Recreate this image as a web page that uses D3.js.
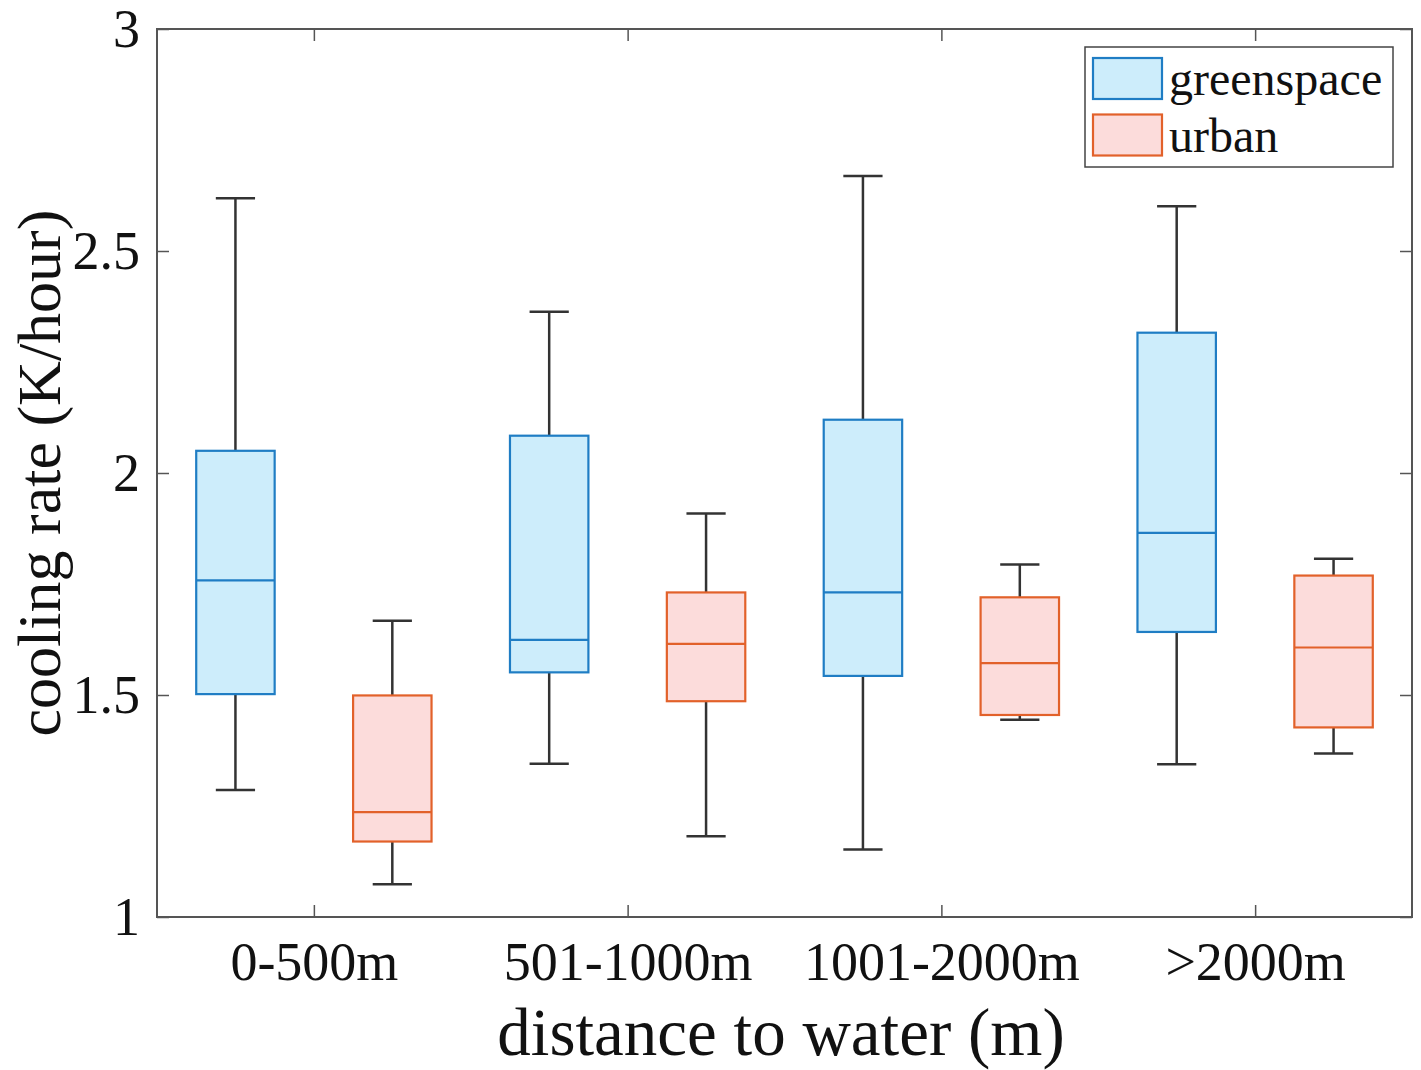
<!DOCTYPE html>
<html>
<head>
<meta charset="utf-8">
<script src="https://cdn.jsdelivr.net/npm/d3@7"></script>
<style>
  html, body { margin: 0; padding: 0; background: #ffffff; }
  svg { display: block; }
  text { font-family: "Liberation Serif", "Times New Roman", serif; fill: #111; }
</style>
</head>
<body>
<svg id="chart" width="1421" height="1070"></svg>
<script>
// ---- data ----
const categories = ["0-500m", "501-1000m", "1001-2000m", ">2000m"];
const seriesNames = ["greenspace", "urban"];
// [lower whisker, Q1, median, Q3, upper whisker] per category
const greenspaceStats = [
  [1.286, 1.502, 1.758, 2.050, 2.619],
  [1.345, 1.551, 1.624, 2.084, 2.363],
  [1.152, 1.543, 1.731, 2.120, 2.669],
  [1.344, 1.642, 1.865, 2.316, 2.601]
];
const urbanStats = [
  [1.074, 1.170, 1.236, 1.499, 1.667],
  [1.182, 1.486, 1.615, 1.731, 1.909],
  [1.444, 1.455, 1.572, 1.720, 1.794],
  [1.368, 1.427, 1.607, 1.769, 1.807]
];
const yTicks = [1, 1.5, 2, 2.5, 3];
const yTickLabels = ["1", "1.5", "2", "2.5", "3"];
const xLabel = "distance to water (m)";
const yLabel = "cooling rate (K/hour)";

// ---- layout ----
const L = 157, R = 1412, T = 29, B = 917;
const svg = d3.select("#chart");
const x = d3.scaleLinear().domain([0.5, 4.5]).range([L, R]);
const y = d3.scaleLinear().domain([1, 3]).range([B, T]);

const styles = [
  { fill: "#cdedfb", stroke: "#1f7dc4", offset: -0.25 },
  { fill: "#fcdcdb", stroke: "#e2612a", offset: 0.25 }
];
const boxW = 0.25, capW = 0.125;
const axisColor = "#555";

// axes
const fontSize = 54;
const gLeft = svg.append("g").attr("transform", `translate(${L},0)`)
  .call(d3.axisLeft(y).tickValues(yTicks).tickFormat((d, i) => yTickLabels[i])
    .tickSizeInner(-12).tickSizeOuter(0).tickPadding(17));
const gRight = svg.append("g").attr("transform", `translate(${R},0)`)
  .call(d3.axisRight(y).tickValues(yTicks).tickFormat("").tickSizeInner(-12).tickSizeOuter(0));
const gBottom = svg.append("g").attr("transform", `translate(0,${B})`)
  .call(d3.axisBottom(x).tickValues([1, 2, 3, 4]).tickFormat((d) => categories[d - 1])
    .tickSizeInner(-12).tickSizeOuter(0).tickPadding(25));
const gTop = svg.append("g").attr("transform", `translate(0,${T})`)
  .call(d3.axisTop(x).tickValues([1, 2, 3, 4]).tickFormat("").tickSizeInner(-12).tickSizeOuter(0));
[gLeft, gRight, gBottom, gTop].forEach(g => {
  g.select(".domain").remove();
  g.selectAll(".tick line").attr("stroke", axisColor).attr("stroke-width", 1.5);
  g.selectAll(".tick text").attr("font-size", fontSize)
    .attr("font-family", "Liberation Serif, Times New Roman, serif").attr("fill", "#111");
});

// frame
svg.append("rect").attr("x", L).attr("y", T).attr("width", R - L).attr("height", B - T)
  .attr("fill", "none").attr("stroke", axisColor).attr("stroke-width", 2);

// boxes
[greenspaceStats, urbanStats].forEach((stats, si) => {
  const st = styles[si];
  const g = svg.append("g");
  stats.forEach((s, ci) => {
    const c = ci + 1 + st.offset;
    const [lo, q1, med, q3, hi] = s;
    // whiskers
    g.append("line").attr("x1", x(c)).attr("x2", x(c)).attr("y1", y(q3)).attr("y2", y(hi))
      .attr("stroke", "#333").attr("stroke-width", 2.5);
    g.append("line").attr("x1", x(c)).attr("x2", x(c)).attr("y1", y(q1)).attr("y2", y(lo))
      .attr("stroke", "#333").attr("stroke-width", 2.5);
    g.append("line").attr("x1", x(c - capW / 2)).attr("x2", x(c + capW / 2)).attr("y1", y(hi)).attr("y2", y(hi))
      .attr("stroke", "#333").attr("stroke-width", 2.5);
    g.append("line").attr("x1", x(c - capW / 2)).attr("x2", x(c + capW / 2)).attr("y1", y(lo)).attr("y2", y(lo))
      .attr("stroke", "#333").attr("stroke-width", 2.5);
    // box
    g.append("rect").attr("x", x(c - boxW / 2)).attr("y", y(q3))
      .attr("width", x(c + boxW / 2) - x(c - boxW / 2)).attr("height", y(q1) - y(q3))
      .attr("fill", st.fill).attr("stroke", st.stroke).attr("stroke-width", 2.2);
    // median
    g.append("line").attr("x1", x(c - boxW / 2)).attr("x2", x(c + boxW / 2)).attr("y1", y(med)).attr("y2", y(med))
      .attr("stroke", st.stroke).attr("stroke-width", 2.2);
  });
});

// legend
const lg = svg.append("g");
lg.append("rect").attr("x", 1085).attr("y", 47).attr("width", 308).attr("height", 120)
  .attr("fill", "#fff").attr("stroke", "#444").attr("stroke-width", 1.5);
seriesNames.forEach((name, i) => {
  const yy = 58 + i * 56.5;
  lg.append("rect").attr("x", 1093).attr("y", yy).attr("width", 69).attr("height", 41)
    .attr("fill", styles[i].fill).attr("stroke", styles[i].stroke).attr("stroke-width", 2.2);
  lg.append("text").attr("x", 1169).attr("y", yy + 37).attr("font-size", 48).text(name);
});

// axis labels
svg.append("text").attr("x", 781).attr("y", 1055).attr("text-anchor", "middle")
  .attr("font-size", 67).text(xLabel);
svg.append("text").attr("transform", "translate(60,473) rotate(-90)").attr("text-anchor", "middle")
  .attr("font-size", 62).text(yLabel);
</script>
</body>
</html>
